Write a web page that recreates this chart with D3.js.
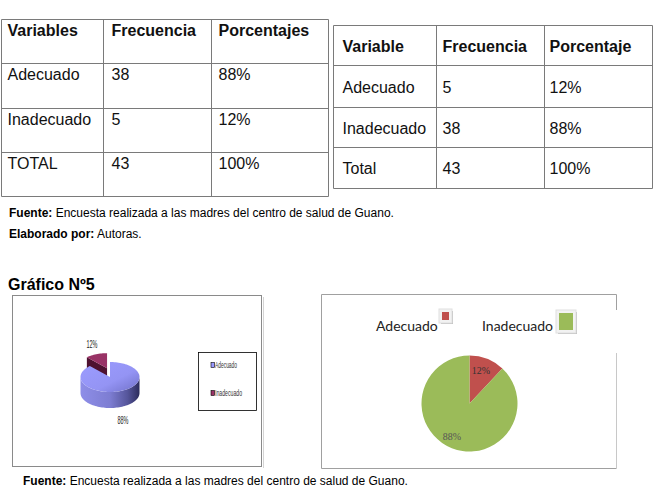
<!DOCTYPE html>
<html><head><meta charset="utf-8">
<script src="https://cdn.jsdelivr.net/npm/d3@7"></script>
<style>html,body{margin:0;padding:0;background:#fff;}svg{display:block;}</style>
</head><body>
<script>
// ---------- DATA ----------
const categories = ["Adecuado", "Inadecuado"];
const table1Header = ["Variables", "Frecuencia", "Porcentajes"];
const table1Freq = [38, 5];
const table1Pct = ["88%", "12%"];
const table1Total = ["TOTAL", "43", "100%"];
const table2Header = ["Variable", "Frecuencia", "Porcentaje"];
const table2Freq = [5, 38];
const table2Pct = ["12%", "88%"];
const table2Total = ["Total", "43", "100%"];
const chart1Values = [88, 12];     // Adecuado, Inadecuado (3D pie)
const chart1Labels = ["88%", "12%"];
const chart2Values = [12, 88];     // Adecuado, Inadecuado (flat pie)
const chart2Labels = ["12%", "88%"];
const sourceText = "Encuesta realizada a las madres del centro de salud de Guano.";
const authorText = "Autoras.";
const chartTitle = "Gráfico Nº5";

// ---------- SETUP ----------
const W = 656, H = 496;
const svg = d3.select("body").append("svg").attr("width", W).attr("height", H);
svg.append("rect").attr("width", W).attr("height", H).attr("fill", "#fff");
const sans = "'Liberation Sans', Arial, sans-serif";

// ---------- TABLES ----------
function drawTable(g, colX, rowY, rows, baseFn, textPad) {
  g.selectAll("line.v").data(colX).join("line")
    .attr("x1", d => d).attr("x2", d => d)
    .attr("y1", rowY[0]).attr("y2", rowY[rowY.length - 1])
    .attr("stroke", "#7a7a7a").attr("stroke-width", 1);
  g.selectAll("line.h").data(rowY).join("line").attr("class", "h")
    .attr("x1", colX[0]).attr("x2", colX[colX.length - 1])
    .attr("y1", d => d).attr("y2", d => d)
    .attr("stroke", "#7a7a7a").attr("stroke-width", 1);
  rows.forEach((row, ri) => {
    g.append("g").selectAll("text").data(row).join("text")
      .attr("x", (d, ci) => colX[ci] + textPad[ci])
      .attr("y", baseFn(ri))
      .attr("font-family", sans).attr("font-size", 16)
      .attr("font-weight", ri === 0 ? "bold" : "normal")
      .attr("fill", "#111")
      .text(d => d);
  });
}

const t1rows = [table1Header]
  .concat(categories.map((c, i) => [c, String(table1Freq[i]), table1Pct[i]]))
  .concat([table1Total]);
const t1x = [1.5, 103.5, 211.5, 328.5];
const t1y = [19.5, 63.5, 108.5, 152.5, 196.5];
drawTable(svg.append("g"), t1x, t1y, t1rows, ri => t1y[ri] + 16, [6, 8, 7]);

const t2rows = [table2Header]
  .concat(categories.map((c, i) => [c, String(table2Freq[i]), table2Pct[i]]))
  .concat([table2Total]);
const t2x = [333.5, 436.5, 544.5, 652.5];
const t2y = [25.5, 65.5, 107.5, 147.5, 188.5];
drawTable(svg.append("g"), t2x, t2y, t2rows, ri => (t2y[ri] + t2y[ri + 1]) / 2 + 6, [9, 6, 5]);

// ---------- NOTES ----------
function note(x, y, bold, rest) {
  const t = svg.append("text").attr("x", x).attr("y", y)
    .attr("font-family", sans).attr("font-size", 12).attr("fill", "#000");
  t.append("tspan").attr("font-weight", "bold").text(bold);
  t.append("tspan").text(" " + rest);
}
note(9, 217, "Fuente:", sourceText);
note(9, 238, "Elaborado por:", authorText);
svg.append("text").attr("x", 8).attr("y", 290)
  .attr("font-family", sans).attr("font-size", 16).attr("font-weight", "bold")
  .text(chartTitle);
note(23, 485, "Fuente:", sourceText);

// ---------- CHART 1 : 3D pie ----------
const defs = svg.append("defs");
const gSide = defs.append("linearGradient").attr("id", "pside").attr("x1", 0).attr("x2", 1).attr("y1", 0).attr("y2", 0);
gSide.append("stop").attr("offset", 0).attr("stop-color", "#8e8ee8");
gSide.append("stop").attr("offset", 0.5).attr("stop-color", "#7d7dd2");
gSide.append("stop").attr("offset", 0.8).attr("stop-color", "#55559a");
gSide.append("stop").attr("offset", 1).attr("stop-color", "#2c2c5c");
const gTop = defs.append("linearGradient").attr("id", "ptop").attr("x1", 0).attr("x2", 1).attr("y1", 0).attr("y2", 1);
gTop.append("stop").attr("offset", 0).attr("stop-color", "#9c9cff");
gTop.append("stop").attr("offset", 0.6).attr("stop-color", "#9494f4");
gTop.append("stop").attr("offset", 1).attr("stop-color", "#7070c8");

const c1 = svg.append("g");
c1.append("rect").attr("x", 12.5).attr("y", 295.5).attr("width", 249).attr("height", 171)
  .attr("fill", "#fff").attr("stroke", "#8a8a8a");
c1.append("line").attr("x1", 263.5).attr("x2", 263.5).attr("y1", 297).attr("y2", 468)
  .attr("stroke", "#d4d4d4");

const p1 = { cx: 110, cy: 377, rx: 29.5, ry: 15, depth: 16 };
const pie1 = d3.pie().sort(null).value(d => d)(chart1Values);
function ept(p, t, dy) { return [p.cx + p.rx * Math.sin(t), p.cy - p.ry * Math.cos(t) + (dy || 0)]; }
function arcPts(p, a0, a1, dy) {
  const n = Math.max(2, Math.ceil(Math.abs(a1 - a0) / 0.05));
  return d3.range(n + 1).map(i => ept(p, a0 + (a1 - a0) * i / n, dy));
}
const line = d3.line();
const colors1 = ["url(#ptop)", "#993366"];
const sideColors1 = ["url(#pside)", "#5a1a3a"];

pie1.forEach((s, i) => {
  const mid = (s.startAngle + s.endAngle) / 2;
  const off = i === 1 ? 10 : 0;
  s.p = { cx: p1.cx + off * 0.8 * Math.sin(mid), cy: p1.cy - off * 0.95 * Math.cos(mid), rx: p1.rx, ry: p1.ry, depth: p1.depth };
});
function drawSlice(s, i) {
  const p = s.p;
  if (i === 1) {
    const e = ept(p, s.startAngle);
    const face = [[p.cx, p.cy], e, [e[0], e[1] + p.depth], [p.cx, p.cy + p.depth]];
    c1.append("path").attr("d", line(face) + "Z").attr("fill", "#4e1230");
  }
  const a0 = Math.max(s.startAngle, Math.PI / 2), a1 = Math.min(s.endAngle, 3 * Math.PI / 2);
  if (a1 > a0) {
    const pts = arcPts(p, a0, a1).concat(arcPts(p, a1, a0, p.depth));
    c1.append("path").attr("d", line(pts) + "Z").attr("fill", sideColors1[i]);
  }
  const top = [[p.cx, p.cy]].concat(arcPts(p, s.startAngle, s.endAngle));
  c1.append("path").attr("d", line(top) + "Z").attr("fill", colors1[i]);
}
drawSlice(pie1[1], 1);
drawSlice(pie1[0], 0);

const lbl1Pos = [[123, 424], [92, 348]];
c1.selectAll("text.pl").data(chart1Labels).join("text")
  .attr("x", (d, i) => lbl1Pos[i][0]).attr("y", (d, i) => lbl1Pos[i][1])
  .attr("text-anchor", "middle").attr("font-family", sans).attr("font-size", 11)
  .attr("textLength", 11).attr("lengthAdjust", "spacingAndGlyphs").attr("fill", "#222")
  .text(d => d);

c1.append("rect").attr("x", 198.5).attr("y", 352.5).attr("width", 58).attr("height", 58)
  .attr("fill", "#fff").attr("stroke", "#000").attr("stroke-width", 0.8);
const leg1 = c1.selectAll("g.l1").data(categories).join("g")
  .attr("transform", (d, i) => `translate(211, ${365 + i * 28})`);
leg1.append("rect").attr("x", 0).attr("y", -2.5).attr("width", 3.5).attr("height", 5)
  .attr("fill", (d, i) => i === 0 ? "#9999ff" : "#993366").attr("stroke", "#000").attr("stroke-width", 0.6);
leg1.append("text").attr("x", 4).attr("y", 3).attr("font-family", sans).attr("font-size", 9)
  .attr("textLength", (d, i) => i === 0 ? 22 : 27).attr("lengthAdjust", "spacingAndGlyphs")
  .attr("fill", "#333").text(d => d);

// ---------- CHART 2 : flat pie ----------
const c2 = svg.append("g");
c2.append("line").attr("x1", 321.5).attr("x2", 616.5).attr("y1", 294.5).attr("y2", 294.5).attr("stroke", "#a0a0a0");
c2.append("line").attr("x1", 321.5).attr("x2", 321.5).attr("y1", 294.5).attr("y2", 468.5).attr("stroke", "#a0a0a0");
c2.append("line").attr("x1", 321.5).attr("x2", 616.5).attr("y1", 468.5).attr("y2", 468.5).attr("stroke", "#a0a0a0");
c2.append("line").attr("x1", 616.5).attr("x2", 616.5).attr("y1", 294.5).attr("y2", 310).attr("stroke", "#a0a0a0");
c2.append("line").attr("x1", 616.5).attr("x2", 616.5).attr("y1", 353).attr("y2", 468.5).attr("stroke", "#c8c8c8");

const colors2 = ["#c0504d", "#9bbb59"];
const pie2 = d3.pie().sort(null).value(d => d)(chart2Values);
const arc2 = d3.arc().innerRadius(0).outerRadius(48);
const pg = c2.append("g").attr("transform", "translate(469.5,403.5)");
pg.selectAll("path").data(pie2).join("path").attr("d", arc2).attr("fill", (d, i) => colors2[i]);
const lbl2Pos = [[11.5, -30], [-17.5, 36]];
pg.selectAll("text").data(chart2Labels).join("text")
  .attr("x", (d, i) => lbl2Pos[i][0]).attr("y", (d, i) => lbl2Pos[i][1])
  .attr("text-anchor", "middle").attr("font-family", "'Liberation Serif', serif")
  .attr("font-size", 10).attr("fill", (d, i) => i === 0 ? "#333" : "#555").text(d => d);

const leg2 = [
  { x: 376, mx: 442, my: 312, mw: 7, mh: 8 },
  { x: 482, mx: 559, my: 313, mw: 14, mh: 17 }
];
const lg2 = c2.selectAll("g.l2").data(categories).join("g");
lg2.append("rect").attr("x", (d, i) => leg2[i].mx - 1).attr("y", (d, i) => leg2[i].my - 1)
  .attr("width", (d, i) => leg2[i].mw + 5).attr("height", (d, i) => leg2[i].mh + 5)
  .attr("fill", "#bdbdbd");
lg2.append("rect").attr("x", (d, i) => leg2[i].mx - 3).attr("y", (d, i) => leg2[i].my - 3)
  .attr("width", (d, i) => leg2[i].mw + 6).attr("height", (d, i) => leg2[i].mh + 6)
  .attr("fill", "#f2f2f2").attr("stroke", "#e0e0e0");
lg2.append("rect").attr("x", (d, i) => leg2[i].mx).attr("y", (d, i) => leg2[i].my)
  .attr("width", (d, i) => leg2[i].mw).attr("height", (d, i) => leg2[i].mh)
  .attr("fill", (d, i) => colors2[i]);
lg2.append("text").attr("x", (d, i) => leg2[i].x).attr("y", 331)
  .attr("font-family", "Lato, 'Open Sans', sans-serif").attr("font-size", 14).attr("fill", "#222")
  .text(d => d);
</script>
</body></html>
